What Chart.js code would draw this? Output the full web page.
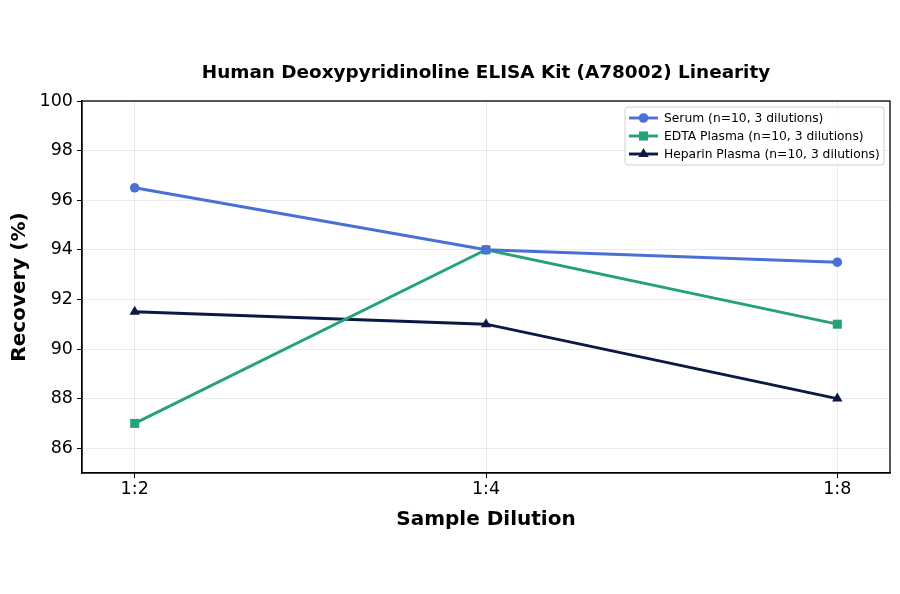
<!DOCTYPE html>
<html lang="en">
<head>
    <meta charset="UTF-8">
    <title>Human Deoxypyridinoline ELISA Kit (A78002) Linearity</title>
    <style>
        body { margin: 0; background: #fff; }
        #wrap { width: 900px; height: 594px; }
    </style>
</head>
<body>
<div id="wrap"><canvas id="chart" width="900" height="594"></canvas></div>

<script src="https://cdn.jsdelivr.net/npm/chart.js"></script>
<script>
    // Data
    const dilutions = ['1:2', '1:4', '1:8'];
    const serum = [96.5, 94.0, 93.5];
    const edtaPlasma = [87.0, 94.0, 91.0];
    const heparinPlasma = [91.5, 91.0, 88.0];
    const yTicks = [86, 88, 90, 92, 94, 96, 98, 100];

    const chartTitle = 'Human Deoxypyridinoline ELISA Kit (A78002) Linearity';
    const seriesLabels = [
        'Serum (n=10, 3 dilutions)',
        'EDTA Plasma (n=10, 3 dilutions)',
        'Heparin Plasma (n=10, 3 dilutions)'
    ];
    const seriesColors = ['#4a6fd6', '#26a27a', '#0c1846'];
    const seriesMarkers = ['circle', 'rect', 'triangle'];
    const markerSizes = [4.8, 6.4, 6];
    const seriesValues = [serum, edtaPlasma, heparinPlasma];

    const font = 'DejaVu Sans';

    const datasets = seriesValues.map((vals, i) => ({
        label: seriesLabels[i],
        data: vals.map((v, j) => ({ x: j, y: v })),
        borderColor: seriesColors[i],
        backgroundColor: seriesColors[i],
        borderWidth: 2.9,
        pointStyle: seriesMarkers[i],
        pointRadius: markerSizes[i],
        pointHoverRadius: markerSizes[i],
        pointBorderWidth: 0,
        tension: 0
    }));

    // title over the plot, frame round the plot, legend inside top right
    const framePlugin = {
        id: 'frame',
        afterDraw(chart) {
            const { ctx, chartArea: a } = chart;
            ctx.save();
            ctx.fillStyle = '#000';
            ctx.font = 'bold 18.4px "' + font + '"';
            ctx.textAlign = 'center';
            ctx.textBaseline = 'middle';
            ctx.fillText(chartTitle, (a.left + a.right) / 2, 73);

            ctx.strokeStyle = '#000';
            ctx.lineWidth = 1.3;
            ctx.strokeRect(a.left, a.top, a.right - a.left, a.bottom - a.top);

            // legend box
            const bx = a.right - 265, by = a.top + 6, bw = 259, bh = 58;
            ctx.fillStyle = 'rgba(255,255,255,0.85)';
            ctx.strokeStyle = '#d0d0d0';
            ctx.lineWidth = 1;
            ctx.beginPath();
            ctx.roundRect(bx, by, bw, bh, 3);
            ctx.fill();
            ctx.stroke();

            ctx.font = '12.3px "' + font + '"';
            ctx.textAlign = 'left';
            seriesLabels.forEach((lab, i) => {
                const y = by + 11 + i * 18;
                ctx.strokeStyle = seriesColors[i];
                ctx.lineWidth = 2.9;
                ctx.beginPath();
                ctx.moveTo(bx + 4, y);
                ctx.lineTo(bx + 33, y);
                ctx.stroke();
                ctx.fillStyle = seriesColors[i];
                Chart.helpers.drawPoint(ctx, { pointStyle: seriesMarkers[i], radius: markerSizes[i], rotation: 0, borderWidth: 0 }, bx + 18.5, y);
                ctx.fillStyle = '#000';
                ctx.fillText(lab, bx + 39, y + 1);
            });
            ctx.restore();
        }
    };

    new Chart(document.getElementById('chart'), {
        type: 'line',
        data: { datasets },
        options: {
            responsive: false,
            animation: false,
            devicePixelRatio: 1,
            layout: { padding: { left: 0, right: 10, top: 101, bottom: 62 } },
            plugins: {
                legend: { display: false },
                tooltip: { enabled: false },
                title: { display: false }
            },
            scales: {
                x: {
                    type: 'linear',
                    min: -0.15,
                    max: 2.15,
                    afterBuildTicks: s => { s.ticks = dilutions.map((d, i) => ({ value: i })); },
                    ticks: {
                        callback: v => dilutions[v],
                        color: '#000',
                        font: { family: font, size: 17.5 },
                        padding: 1
                    },
                    grid: { color: 'rgba(0,0,0,0.08)', tickColor: '#000', tickLength: 5 },
                    border: { color: '#000', width: 1.3 },
                    title: {
                        display: true,
                        text: 'Sample Dilution',
                        color: '#000',
                        font: { family: font, size: 20, weight: 'bold' },
                        padding: { top: 7, bottom: 0 }
                    }
                },
                y: {
                    min: 85,
                    max: 100,
                    afterBuildTicks: s => { s.ticks = yTicks.map(v => ({ value: v })); },
                    afterFit: s => { s.width = 82; },
                    ticks: {
                        color: '#000',
                        font: { family: font, size: 17.5 },
                        padding: 4
                    },
                    grid: { color: 'rgba(0,0,0,0.08)', tickColor: '#000', tickLength: 5 },
                    border: { color: '#000', width: 1.3 },
                    title: {
                        display: true,
                        text: 'Recovery (%)',
                        color: '#000',
                        font: { family: font, size: 20, weight: 'bold' },
                        padding: { top: 8, bottom: 4 }
                    }
                }
            }
        },
        plugins: [framePlugin]
    });
</script>
</body>
</html>
